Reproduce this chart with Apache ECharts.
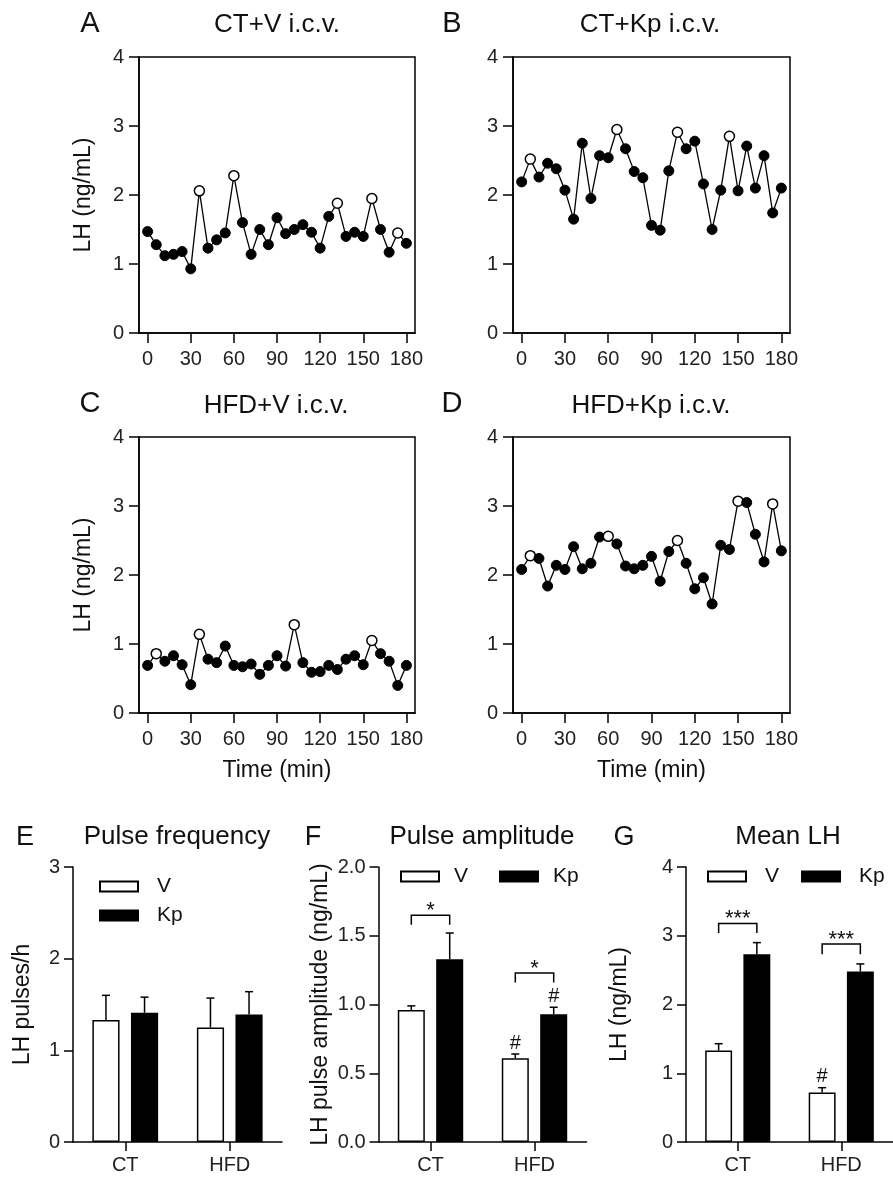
<!DOCTYPE html>
<html>
<head>
<meta charset="utf-8">
<script src="https://cdn.jsdelivr.net/npm/echarts@6/dist/echarts.min.js"></script>
<style>
html,body{margin:0;padding:0;background:#fff;}
#c{width:893px;height:1177px;}
</style>
</head>
<body>
<div id="c"></div>
<script>
// ---------- DATA ----------
const times = [0,6,12,18,24,30,36,42,48,54,60,66,72,78,84,90,96,102,108,114,120,126,132,138,144,150,156,162,168,174,180];
const timeTicks = [0,30,60,90,120,150,180];
const lhA = [1.47,1.28,1.12,1.14,1.18,0.93,2.06,1.23,1.35,1.45,2.28,1.60,1.14,1.50,1.28,1.67,1.44,1.50,1.57,1.46,1.23,1.69,1.88,1.40,1.46,1.40,1.95,1.50,1.17,1.45,1.30];
const lhB = [2.19,2.52,2.26,2.46,2.38,2.07,1.65,2.75,1.95,2.57,2.54,2.95,2.67,2.34,2.25,1.56,1.49,2.35,2.91,2.67,2.78,2.16,1.50,2.07,2.85,2.06,2.71,2.10,2.57,1.74,2.10];
const lhC = [0.69,0.86,0.75,0.83,0.70,0.41,1.14,0.78,0.73,0.97,0.69,0.67,0.71,0.56,0.69,0.83,0.68,1.28,0.73,0.59,0.60,0.69,0.63,0.78,0.83,0.70,1.05,0.86,0.75,0.40,0.69];
const lhD = [2.08,2.28,2.24,1.84,2.14,2.08,2.41,2.09,2.17,2.55,2.56,2.45,2.13,2.09,2.14,2.27,1.91,2.34,2.50,2.17,1.80,1.96,1.58,2.43,2.37,3.07,3.05,2.59,2.19,3.03,2.35];
const pulsesA = [36,60,132,156,174];
const pulsesB = [6,66,108,144];
const pulsesC = [6,36,102,156];
const pulsesD = [6,60,108,150,174];
const lineTitles = ['CT+V i.c.v.','CT+Kp i.c.v.','HFD+V i.c.v.','HFD+Kp i.c.v.'];

const groups = ['CT','HFD'];
const freqV = [1.33,1.25],  freqVSem = [0.27,0.32];
const freqKp = [1.41,1.39], freqKpSem = [0.17,0.25];
const ampV = [0.96,0.61],   ampVSem = [0.03,0.03];
const ampKp = [1.33,0.93],  ampKpSem = [0.19,0.05];
const meanV = [1.33,0.72],  meanVSem = [0.10,0.07];
const meanKp = [2.73,2.48], meanKpSem = [0.17,0.11];
const ampSigY = [1.65,1.23], ampSigLeg = [1.58,1.16], ampSigText = ['*','*'];
const meanSigY = [3.18,2.88], meanSigLeg = [3.04,2.73], meanSigText = ['***','***'];
const ampHashGroup = [1,1], ampHashSide = [-1,1];
const meanHashGroup = [1], meanHashSide = [-1];
const barTitles = ['Pulse frequency','Pulse amplitude','Mean LH'];

// ---------- STYLE ----------
const FONT = "'Liberation Sans', Arial, sans-serif";
const BLACK = '#000';
const BAR_W = 0.26, BAR_GAP = 0.42;
const OFF = BAR_W/2 + BAR_W*BAR_GAP/2;

const lineGrids = [
  {left:139, top:57, width:276, height:276},
  {left:513, top:57, width:277, height:276},
  {left:139, top:437, width:276, height:276},
  {left:513, top:437, width:277, height:276}
];
const barGrids = [
  {left:73, top:867, width:209, height:275},
  {left:378.5, top:867, width:208, height:275},
  {left:686, top:867, width:207, height:275}
];

const grid = [], xAxis = [], yAxis = [], series = [];

const lineData = [lhA, lhB, lhC, lhD];
const pulseData = [pulsesA, pulsesB, pulsesC, pulsesD];

lineGrids.forEach((g, i) => {
  grid.push(Object.assign({show:true, borderColor:BLACK, borderWidth:1.5, backgroundColor:'transparent', containLabel:false}, g));
  xAxis.push({
    type:'value', gridIndex:i, min:-6, max:186,
    axisLine:{show:true, onZero:false, lineStyle:{color:BLACK, width:1.5}},
    axisTick:{show:true, length:10, lineStyle:{color:BLACK, width:1.5}, customValues:timeTicks},
    axisLabel:{show:true, margin:16, color:'#222', fontSize:20, fontFamily:FONT, customValues:timeTicks},
    splitLine:{show:false},
    name: i >= 2 ? 'Time (min)' : '',
    nameLocation:'middle', nameGap:46,
    nameTextStyle:{color:'#111', fontSize:23, fontFamily:FONT}
  });
  yAxis.push({
    type:'value', gridIndex:i, min:0, max:4, interval:1,
    axisLine:{show:true, onZero:false, lineStyle:{color:BLACK, width:1.5}},
    axisTick:{show:true, length:10, lineStyle:{color:BLACK, width:1.5}},
    axisLabel:{show:true, margin:15, color:'#222', fontSize:20, fontFamily:FONT},
    splitLine:{show:false},
    name: (i % 2 === 0) ? 'LH (ng/mL)' : '',
    nameLocation:'middle', nameGap:44, nameRotate:90,
    nameTextStyle:{color:'#111', fontSize:23, fontFamily:FONT}
  });
  const vals = lineData[i], pul = pulseData[i];
  series.push({
    type:'line', xAxisIndex:i, yAxisIndex:i, name:'LH'+i,
    symbol:'circle', symbolSize:10, z:3,
    lineStyle:{color:BLACK, width:1.3},
    data: times.map((t, k) => ({
      value:[t, vals[k]],
      itemStyle: pul.indexOf(t) >= 0
        ? {color:'#fff', borderColor:BLACK, borderWidth:1.5}
        : {color:BLACK, borderColor:BLACK, borderWidth:1}
    })),
    emphasis:{disabled:true}, animation:false
  });
});

const barMax = [3, 2, 4];
const barInterval = [1, 0.5, 1];
const yNames = ['LH pulses/h','LH pulse amplitude (ng/mL)','LH (ng/mL)'];
const yNameGap = [39, 46, 55];
const vArr = [freqV, ampV, meanV], vSem = [freqVSem, ampVSem, meanVSem];
const kArr = [freqKp, ampKp, meanKp], kSem = [freqKpSem, ampKpSem, meanKpSem];

barGrids.forEach((g, j) => {
  const gi = 4 + j;
  grid.push(Object.assign({show:false, containLabel:false}, g));
  xAxis.push({
    type:'category', gridIndex:gi, data:groups,
    axisLine:{show:true, onZero:false, lineStyle:{color:BLACK, width:1.5}},
    axisTick:{show:true, alignWithLabel:true, length:9, lineStyle:{color:BLACK, width:1.5}},
    axisLabel:{show:true, margin:13, color:'#222', fontSize:20, fontFamily:FONT},
    splitLine:{show:false}
  });
  yAxis.push({
    type:'value', gridIndex:gi, min:0, max:barMax[j], interval:barInterval[j],
    axisLine:{show:true, onZero:false, lineStyle:{color:BLACK, width:1.5}},
    axisTick:{show:true, length:9, lineStyle:{color:BLACK, width:1.5}},
    axisLabel:{show:true, margin:13, color:'#222', fontSize:20, fontFamily:FONT,
      formatter: j === 1 ? (v => v.toFixed(1)) : (v => String(v))},
    splitLine:{show:false},
    name:yNames[j], nameLocation:'middle', nameGap:yNameGap[j], nameRotate:90,
    nameTextStyle:{color:'#111', fontSize:23, fontFamily:FONT}
  });
  series.push({
    type:'bar', name:'V', xAxisIndex:gi, yAxisIndex:gi, data:vArr[j],
    barWidth:(BAR_W*100)+'%', barGap:(BAR_GAP*100)+'%',
    itemStyle:{color:'#fff', borderColor:BLACK, borderWidth:1.5},
    emphasis:{disabled:true}, animation:false, z:2
  });
  series.push({
    type:'bar', name:'Kp', xAxisIndex:gi, yAxisIndex:gi, data:kArr[j],
    barWidth:(BAR_W*100)+'%', barGap:(BAR_GAP*100)+'%',
    itemStyle:{color:BLACK, borderColor:BLACK, borderWidth:1.5},
    emphasis:{disabled:true}, animation:false, z:2
  });
  const errData = [];
  groups.forEach((_, c) => {
    errData.push([c, vArr[j][c], vSem[j][c], -1]);
    errData.push([c, kArr[j][c], kSem[j][c], 1]);
  });
  series.push({
    type:'custom', name:'err'+j, xAxisIndex:gi, yAxisIndex:gi, z:4,
    encode:{x:0, y:1}, data:errData, animation:false, silent:true,
    renderItem:(params, api) => {
      const c = api.value(0), m = api.value(1), s = api.value(2), side = api.value(3);
      const band = api.size([1, 0])[0];
      const p0 = api.coord([c, m]), p1 = api.coord([c, m + s]);
      const x = p0[0] + side * band * OFF;
      const st = {stroke:BLACK, lineWidth:1.5};
      return {type:'group', children:[
        {type:'line', shape:{x1:x, y1:p0[1], x2:x, y2:p1[1]}, style:st},
        {type:'line', shape:{x1:x-4, y1:p1[1], x2:x+4, y2:p1[1]}, style:st}
      ]};
    }
  });
});

function bracketSeries(gi, ys, legs, texts) {
  return {
    type:'custom', name:'sig'+gi, xAxisIndex:gi, yAxisIndex:gi, z:5,
    encode:{x:0, y:1}, animation:false, silent:true,
    data: ys.map((y, c) => [c, y, legs[c]]),
    renderItem:(params, api) => {
      const c = api.value(0), y = api.value(1), leg = api.value(2);
      const band = api.size([1, 0])[0];
      const p = api.coord([c, y]), pl = api.coord([c, leg]);
      const xa = p[0] - band * OFF, xb = p[0] + band * OFF;
      return {type:'group', children:[
        {type:'polyline', shape:{points:[[xa, pl[1]],[xa, p[1]],[xb, p[1]],[xb, pl[1]]]},
         style:{stroke:BLACK, lineWidth:1.5, fill:null}},
        {type:'text', style:{text:texts[params.dataIndex], x:p[0], y:p[1]-4,
          align:'center', verticalAlign:'middle', fill:'#111', font:'22px ' + FONT}}
      ]};
    }
  };
}
series.push(bracketSeries(5, ampSigY, ampSigLeg, ampSigText));
series.push(bracketSeries(6, meanSigY, meanSigLeg, meanSigText));

function hashSeries(gi, grpArr, sideArr, vA, vS, kA, kS) {
  return {
    type:'custom', name:'hash'+gi, xAxisIndex:gi, yAxisIndex:gi, z:5,
    encode:{x:0, y:1}, animation:false, silent:true,
    data: grpArr.map((c, k) => {
      const side = sideArr[k];
      const top = side < 0 ? vA[c] + vS[c] : kA[c] + kS[c];
      return [c, top, side];
    }),
    renderItem:(params, api) => {
      const c = api.value(0), top = api.value(1), side = api.value(2);
      const band = api.size([1, 0])[0];
      const p = api.coord([c, top]);
      return {type:'text', style:{text:'#', x:p[0] + side*band*OFF, y:p[1]-1,
        align:'center', verticalAlign:'bottom', fill:'#111', font:'20px ' + FONT}};
    }
  };
}
series.push(hashSeries(5, ampHashGroup, ampHashSide, ampV, ampVSem, ampKp, ampKpSem));
series.push(hashSeries(6, meanHashGroup, meanHashSide, meanV, meanVSem, meanKp, meanKpSem));

const T = (text, left, top, size) => ({text, left, top, padding:0, textAlign:'center',
  textStyle:{fontSize:size, fontWeight:'normal', color:'#111', fontFamily:FONT}});
const title = [
  T('A', 90, 9, 29), T('B', 452, 9, 29), T('C', 90, 389, 29), T('D', 452, 389, 29),
  T(lineTitles[0], 277, 12, 26), T(lineTitles[1], 650, 12, 26),
  T(lineTitles[2], 276, 393, 26), T(lineTitles[3], 651, 393, 26),
  T('E', 25, 824, 27), T('F', 313, 824, 27), T('G', 624, 824, 27),
  T(barTitles[0], 177, 824, 26), T(barTitles[1], 482, 824, 26), T(barTitles[2], 788, 824, 26)
];

const legendBase = {
  data:['V','Kp'], icon:'rect', itemWidth:38, itemHeight:10, padding:0,
  selectedMode:false,
  textStyle:{fontSize:21, color:'#111', fontFamily:FONT}
};
const legend = [
  Object.assign({}, legendBase, {orient:'vertical', left:99, top:876, itemGap:8,
    textStyle:Object.assign({}, legendBase.textStyle, {padding:[0,0,0,14]})}),
  Object.assign({}, legendBase, {orient:'horizontal', left:400, top:866, itemGap:31,
    textStyle:Object.assign({}, legendBase.textStyle, {padding:[0,0,0,10]})}),
  Object.assign({}, legendBase, {orient:'horizontal', left:707, top:866, itemGap:22,
    textStyle:Object.assign({}, legendBase.textStyle, {padding:[0,0,0,14]})})
];

const chart = echarts.init(document.getElementById('c'), null, {renderer:'canvas'});
chart.setOption({
  backgroundColor:'#fff', animation:false,
  title, legend, grid, xAxis, yAxis, series
});
</script>
</body>
</html>
